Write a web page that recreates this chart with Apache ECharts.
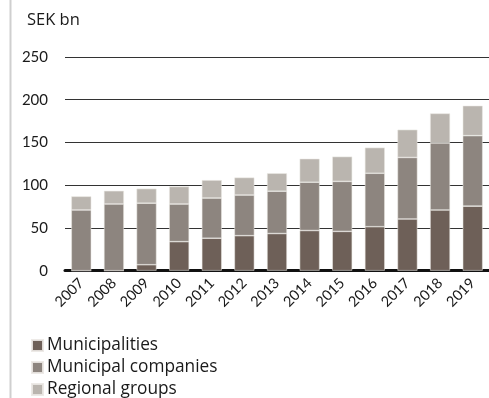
<!DOCTYPE html>
<html>
<head>
<meta charset="utf-8">
<script src="https://cdn.jsdelivr.net/npm/echarts@6/dist/echarts.min.js"></script>
<style>
  html, body { margin: 0; padding: 0; background: #fff; }
  #chart { width: 489px; height: 398px; }
</style>
</head>
<body>
<div id="chart"></div>
<script>
// Borrowing, SEK bn, by borrower group
const years = ['2007','2008','2009','2010','2011','2012','2013','2014','2015','2016','2017','2018','2019'];
const municipalities = [0, 0, 7, 34, 38, 41, 43.5, 47, 46, 51.5, 60.5, 71, 75.5];
const municipalCompanies = [71, 78, 72, 44, 47, 47.5, 49.5, 56.5, 58.5, 62.5, 72, 78.5, 82.5];
const regionalGroups = [16, 15.5, 17, 20.5, 21, 20.5, 21, 27.5, 29, 30, 32.5, 34.5, 35];
const yTicks = [0, 50, 100, 150, 200, 250];

const FONT = 'Lato, "Open Sans", sans-serif';
const WIDE = '"Open Sans", Lato, sans-serif';
const colors = ['#6e6058', '#8d857f', '#bab5af'];

const chart = echarts.init(document.getElementById('chart'), null, { renderer: 'canvas' });

function seriesOf(name, data, color) {
  return {
    name: name,
    type: 'bar',
    stack: 'total',
    barWidth: 20,
    data: data,
    itemStyle: { color: color, borderColor: 'rgba(235,232,228,0.9)', borderWidth: 0.6 },
    emphasis: { disabled: true }
  };
}

chart.setOption({
  animation: false,
  grid: { left: 65, top: 57, width: 434, height: 213.7 },
  xAxis: {
    type: 'category',
    data: years,
    axisTick: { show: false },
    axisLine: { show: true, lineStyle: { color: '#111', width: 3 } },
    axisLabel: {
      rotate: 45, margin: 10, color: '#1a1a1a', fontFamily: FONT, fontSize: 14.5
    }
  },
  yAxis: {
    type: 'value',
    min: yTicks[0], max: yTicks[yTicks.length - 1], interval: 50,
    axisLine: { show: false },
    axisTick: { show: false },
    splitLine: { lineStyle: { color: '#333', width: 1 } },
    axisLabel: { margin: 17, color: '#1a1a1a', fontFamily: FONT, fontSize: 15 }
  },
  legend: {
    orient: 'vertical',
    left: 31, top: 337, height: 120,
    padding: 0,
    itemWidth: 11, itemHeight: 11, itemGap: 5,
    icon: 'rect',
    textStyle: { color: '#1a1a1a', fontFamily: WIDE, fontSize: 17.3, lineHeight: 17, padding: [0, 0, 0, -1] },
    data: ['Municipalities', 'Municipal companies', 'Regional groups']
  },
  graphic: [
    { type: 'line', shape: { x1: 10.5, y1: 0, x2: 10.5, y2: 398 }, style: { stroke: '#cfcfcf', lineWidth: 2 } },
    { type: 'text', left: 27, top: 12, style: { text: 'SEK bn', fill: '#1a1a1a', font: '16.5px ' + WIDE } }
  ],
  series: [
    seriesOf('Municipalities', municipalities, colors[0]),
    seriesOf('Municipal companies', municipalCompanies, colors[1]),
    seriesOf('Regional groups', regionalGroups, colors[2])
  ]
});
</script>
</body>
</html>
